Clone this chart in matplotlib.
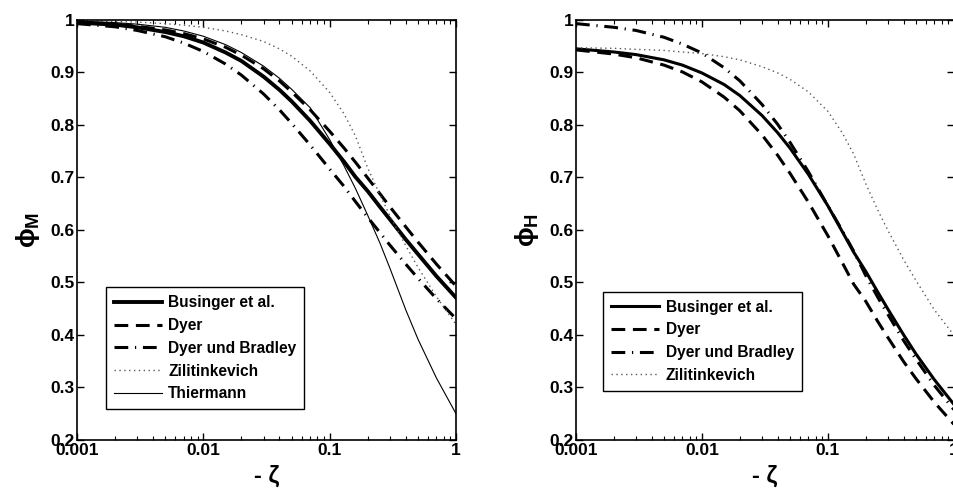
import matplotlib
matplotlib.use('Agg')
import matplotlib.pyplot as plt
import matplotlib.ticker as mticker

# -- style --------------------------------------------------------------
FONT = ['Liberation Sans', 'DejaVu Sans']
plt.rcParams['font.family'] = FONT
plt.rcParams['font.weight'] = 'bold'
plt.rcParams['mathtext.fontset'] = 'custom'
plt.rcParams['mathtext.rm'] = 'Liberation Sans:bold'
plt.rcParams['mathtext.it'] = 'Liberation Sans:bold'
plt.rcParams['mathtext.bf'] = 'Liberation Sans:bold'

# -- data -------------------------------------------------------------
zeta = [0.001, 0.002, 0.003, 0.005, 0.007, 0.01, 0.015, 0.02, 0.03, 0.04,
        0.05, 0.07, 0.1, 0.13, 0.16, 0.2, 0.25, 0.3, 0.4, 0.5, 0.7, 1.0]

# phi_M
m_businger = [0.995, 0.991, 0.986, 0.977, 0.969, 0.957, 0.938, 0.922, 0.892, 0.867,
              0.845, 0.808, 0.764, 0.730, 0.701, 0.674, 0.644, 0.620, 0.582, 0.554, 0.512, 0.471]
m_dyer = [0.996, 0.992, 0.988, 0.981, 0.974, 0.964, 0.948, 0.933, 0.907, 0.884,
          0.863, 0.829, 0.788, 0.756, 0.729, 0.699, 0.669, 0.644, 0.606, 0.577, 0.535, 0.493]
m_dyer_bradley = [0.993, 0.987, 0.980, 0.968, 0.956, 0.940, 0.916, 0.895, 0.859, 0.829,
                  0.803, 0.762, 0.716, 0.683, 0.654, 0.624, 0.595, 0.571, 0.535, 0.508, 0.469, 0.431]
m_zilitinkevich = [0.999, 0.997, 0.996, 0.993, 0.990, 0.986, 0.979, 0.972, 0.959, 0.945,
                   0.931, 0.903, 0.862, 0.821, 0.779, 0.718, 0.667, 0.627, 0.570, 0.529, 0.473, 0.420]
m_thiermann = [0.998, 0.995, 0.992, 0.986, 0.979, 0.969, 0.953, 0.938, 0.912, 0.889,
               0.868, 0.833, 0.772, 0.722, 0.679, 0.628, 0.575, 0.527, 0.448, 0.392, 0.318, 0.250]

# phi_H
h_businger = [0.945, 0.939, 0.934, 0.924, 0.914, 0.899, 0.877, 0.856, 0.818, 0.785,
              0.756, 0.706, 0.646, 0.597, 0.558, 0.521, 0.481, 0.449, 0.400, 0.364, 0.315, 0.268]
h_dyer = [0.943, 0.935, 0.928, 0.914, 0.901, 0.882, 0.853, 0.827, 0.781, 0.742,
          0.708, 0.653, 0.589, 0.538, 0.497, 0.464, 0.425, 0.395, 0.349, 0.317, 0.272, 0.230]
h_dyer_bradley = [0.993, 0.986, 0.980, 0.967, 0.954, 0.937, 0.909, 0.884, 0.839, 0.801,
                  0.767, 0.711, 0.646, 0.599, 0.560, 0.513, 0.471, 0.439, 0.389, 0.354, 0.304, 0.258]
h_zilitinkevich = [0.947, 0.946, 0.944, 0.942, 0.939, 0.936, 0.930, 0.924, 0.911, 0.899,
                   0.887, 0.863, 0.826, 0.785, 0.745, 0.688, 0.637, 0.599, 0.543, 0.504, 0.448, 0.400]

labels = ['Businger et al.', 'Dyer', 'Dyer und Bradley', 'Zilitinkevich', 'Thiermann']

fig = plt.figure(figsize=(9.54, 4.88), dpi=100, facecolor='white')
ax1 = fig.add_axes([0.0807, 0.0984, 0.3973, 0.8607])
ax2 = fig.add_axes([0.6038, 0.0984, 0.3960, 0.8607])

DASH = (0, (4.5, 2.5))
DASHDOT = (0, (4.5, 2.2, 0.4, 2.2))
DOT = (0, (1, 2.5))

# left panel
ax1.plot(zeta, m_businger, color='black', lw=2.8, label=labels[0])
ax1.plot(zeta, m_dyer, color='black', lw=2.2, linestyle=DASH, label=labels[1])
ax1.plot(zeta, m_dyer_bradley, color='black', lw=2.2, linestyle=DASHDOT, label=labels[2])
ax1.plot(zeta, m_zilitinkevich, color='0.35', lw=1.0, linestyle=DOT, label=labels[3])
ax1.plot(zeta, m_thiermann, color='black', lw=0.8, label=labels[4])

# right panel
ax2.plot(zeta, h_businger, color='black', lw=2.2, label=labels[0])
ax2.plot(zeta, h_dyer, color='black', lw=2.2, linestyle=DASH, label=labels[1])
ax2.plot(zeta, h_dyer_bradley, color='black', lw=2.2, linestyle=DASHDOT, label=labels[2])
ax2.plot(zeta, h_zilitinkevich, color='0.35', lw=1.0, linestyle=DOT, label=labels[3])

for ax, ylab in [(ax1, r'$\phi_{\mathrm{M}}$'), (ax2, r'$\phi_{\mathrm{H}}$')]:
    ax.set_xscale('log')
    ax.set_xlim(0.001, 1)
    ax.set_ylim(0.2, 1.0)
    ax.xaxis.set_major_locator(mticker.FixedLocator([0.001, 0.01, 0.1, 1]))
    ax.xaxis.set_major_formatter(mticker.FixedFormatter(['0.001', '0.01', '0.1', '1']))
    ax.yaxis.set_major_locator(mticker.MultipleLocator(0.1))
    ax.yaxis.set_major_formatter(mticker.FuncFormatter(lambda v, p: f'{v:g}'))
    ax.tick_params(which='both', direction='in', top=True, right=True,
                   labelsize=12.5, pad=2)
    ax.tick_params(which='major', length=5, width=1)
    ax.tick_params(which='minor', length=3, width=0.8)
    for lab in ax.get_xticklabels() + ax.get_yticklabels():
        lab.set_fontweight('bold')
    for s in ax.spines.values():
        s.set_linewidth(1.2)
    ax.set_xlabel('- ζ', fontsize=17, fontweight='bold', labelpad=5)
    ax.set_ylabel(ylab, fontsize=19, labelpad=6)

leg_kw = dict(frameon=True, fancybox=False, edgecolor='black', framealpha=1,
              prop={'family': FONT, 'weight': 'bold', 'size': 11.2}, handlelength=3.1,
              handletextpad=0.4, borderpad=0.5, labelspacing=0.5)
l1 = ax1.legend(loc='lower left', bbox_to_anchor=(0.056, 0.055), **leg_kw)
l2 = ax2.legend(loc='lower left', bbox_to_anchor=(0.052, 0.099), **leg_kw)
for l in (l1, l2):
    l.get_frame().set_linewidth(1.0)

fig.savefig('out.png', dpi=100, facecolor='white')
